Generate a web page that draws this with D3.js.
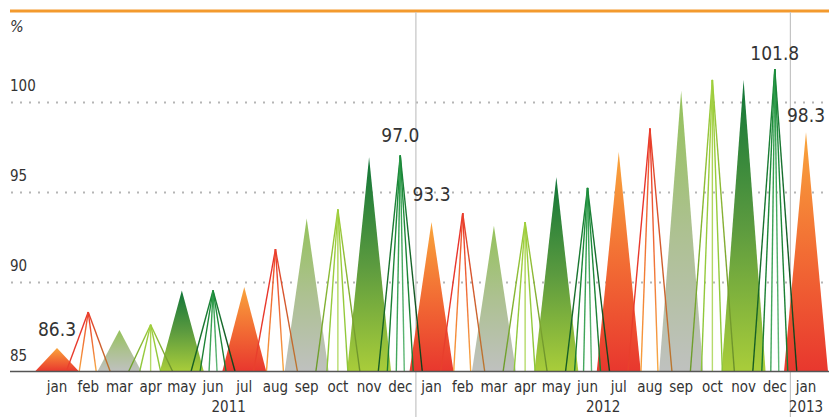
<!DOCTYPE html>
<html>
<head>
<meta charset="utf-8">
<script src="https://cdn.jsdelivr.net/npm/d3@7"></script>
<style>
  html, body { margin: 0; padding: 0; background: #fff; }
  svg text { font-family: "Liberation Sans Narrow", "DejaVu Sans Condensed", "Roboto", sans-serif; fill: #333; }
</style>
</head>
<body>
<div id="chart"></div>
<script>
// monthly values, jan 2011 .. jan 2013
const months = ["jan","feb","mar","apr","may","jun","jul","aug","sep","oct","nov","dec",
                "jan","feb","mar","apr","may","jun","jul","aug","sep","oct","nov","dec",
                "jan"]
const values = [86.3, 88.3, 87.3, 87.6, 89.5, 89.5, 89.7, 91.8, 93.5, 94.0, 96.9, 97.0,
                93.3, 93.8, 93.1, 93.3, 95.8, 95.2, 97.2, 98.5, 100.6, 101.2, 101.2, 101.8,
                98.3]
const years = ["2011", "2012", "2013"]
const yearStart = [0, 12, 24]
const labelled = [0, 11, 12, 23, 24]
const yTicks = [85, 90, 95, 100]

const cfg = {
    width: 829,
    height: 417,
    left: 10,
    baseY: 371.5,
    topY: 11.5,
    halfW: 22,
    font: 15,
}

// 3 colour themes, two months each (filled, then lines)
const fillThemes = [
    ["#f9a53c", "#f26d34", "#e8372e"],
    ["#94c25a", "#adc191", "#bfc1bf"],
    ["#107538", "#5b9a3f", "#a9cd3a"],
]
const lineThemes = [
    [[-22, "#e8302a", "#e8402c"], [-9, "#ec4a2e", "#f7a03c"], [8, "#e8302a", "#f7ab45"], [22, "#ea3f2c", "#b9772e"]],
    [[-22, "#9fcf3c", "#6a9a2a"], [-11, "#a3d040", "#8cc63a"], [0, "#a8d14c", "#b8dc70"], [10, "#9fcf3c", "#8cc63a"], [22, "#9fcf3c", "#6a8f2a"]],
    [[-22, "#1b8a3a", "#155a22"], [-13, "#1f913e", "#1a7a30"], [-4, "#2b9a48", "#45a85e"], [4, "#2b9a48", "#62b878"], [13, "#1f913e", "#1a7a30"], [22, "#1b8a3a", "#123d18"]],
]
const labelDy = {0: 12, 11: 14, 12: 21, 23: 9, 24: 10}

const x = d3.scalePoint()
    .domain(d3.range(values.length))
    .range([57, 806])

const y = d3.scaleLinear()
    .domain([85, 105])
    .range([cfg.baseY, cfg.topY])

const svg = d3.select("#chart")
    .append("svg")
        .attr("width", cfg.width)
        .attr("height", cfg.height)

const defs = svg.append("defs")

fillThemes.forEach((stops, t) => {
    const g = defs.append("linearGradient")
        .attr("id", `fill-${t}`)
        .attr("x1", 0).attr("y1", 0).attr("x2", 0).attr("y2", 1)
    stops.forEach((c, k) => g.append("stop")
        .attr("offset", k / (stops.length - 1))
        .attr("stop-color", c))
})

const theme = i => Math.floor((i % 6) / 2)
const isFill = i => i % 2 === 0
const idx = d3.range(values.length)

// top rule
svg.append("line")
    .attr("x1", cfg.left).attr("x2", cfg.width)
    .attr("y1", 11).attr("y2", 11)
    .attr("stroke", "#f39a2e")
    .attr("stroke-width", 3)

// grid
svg.append("g")
    .selectAll("line")
    .data(yTicks.filter(d => d > 85))
    .enter()
    .append("line")
        .attr("x1", cfg.left + 1).attr("x2", cfg.width)
        .attr("y1", d => Math.round(y(d)) + 0.5)
        .attr("y2", d => Math.round(y(d)) + 0.5)
        .attr("stroke", "#b5b5b5")
        .attr("stroke-width", 2)
        .attr("stroke-dasharray", "2,7")

svg.append("g")
    .selectAll("text")
    .data(yTicks)
    .enter()
    .append("text")
        .attr("x", cfg.left)
        .attr("y", d => y(d) - 11)
        .attr("font-size", cfg.font)
        .text(d => d)

svg.append("text")
    .attr("x", cfg.left)
    .attr("y", 32)
    .attr("font-size", 16)
    .attr("font-style", "italic")
    .text("%")

// year separators
svg.append("g")
    .selectAll("line")
    .data(yearStart.slice(1))
    .enter()
    .append("line")
        .attr("x1", d => (x(d) + x(d - 1)) / 2)
        .attr("x2", d => (x(d) + x(d - 1)) / 2)
        .attr("y1", 12).attr("y2", cfg.height)
        .attr("stroke", "#c4c4c4")
        .attr("stroke-width", 1.2)

// filled spikes
svg.append("g")
    .selectAll("path")
    .data(idx.filter(isFill))
    .enter()
    .append("path")
        .attr("d", i => `M${x(i) - cfg.halfW},${cfg.baseY}L${x(i)},${y(values[i])}L${x(i) + cfg.halfW},${cfg.baseY}Z`)
        .attr("fill", i => `url(#fill-${theme(i)})`)

// line spikes
const lineData = idx.filter(i => !isFill(i))
    .flatMap(i => lineThemes[theme(i)].map(([dx, top, bot], k) => ({i, dx, top, bot, id: `ln-${i}-${k}`})))

lineData.forEach(d => {
    const g = defs.append("linearGradient")
        .attr("id", d.id)
        .attr("gradientUnits", "userSpaceOnUse")
        .attr("x1", 0).attr("x2", 0)
        .attr("y1", y(values[d.i])).attr("y2", cfg.baseY)
    g.append("stop").attr("offset", 0).attr("stop-color", d.top)
    g.append("stop").attr("offset", 1).attr("stop-color", d.bot)
})

svg.append("g")
    .selectAll("line")
    .data(lineData)
    .enter()
    .append("line")
        .attr("x1", d => x(d.i))
        .attr("y1", d => y(values[d.i]))
        .attr("x2", d => x(d.i) + d.dx)
        .attr("y2", cfg.baseY)
        .attr("stroke", d => `url(#${d.id})`)
        .attr("stroke-width", 1.4)

// baseline
svg.append("line")
    .attr("x1", cfg.left).attr("x2", cfg.width)
    .attr("y1", cfg.baseY).attr("y2", cfg.baseY)
    .attr("stroke", "#555")
    .attr("stroke-width", 1.5)

// value labels
svg.append("g")
    .selectAll("text")
    .data(labelled)
    .enter()
    .append("text")
        .attr("x", i => x(i))
        .attr("y", i => y(values[i]) - labelDy[i])
        .attr("text-anchor", "middle")
        .attr("font-size", 19)
        .text(i => values[i].toFixed(1))

// month + year labels
svg.append("g")
    .selectAll("text")
    .data(idx)
    .enter()
    .append("text")
        .attr("x", i => x(i))
        .attr("y", 392)
        .attr("text-anchor", "middle")
        .attr("font-size", cfg.font)
        .text(i => months[i])

svg.append("g")
    .selectAll("text")
    .data(years)
    .enter()
    .append("text")
        .attr("x", (d, k) => {
            const a = yearStart[k]
            const b = k + 1 < yearStart.length ? yearStart[k + 1] - 1 : values.length - 1
            return (x(a) + x(b)) / 2
        })
        .attr("y", 412)
        .attr("text-anchor", "middle")
        .attr("font-size", cfg.font)
        .text(d => d)
</script>
</body>
</html>
